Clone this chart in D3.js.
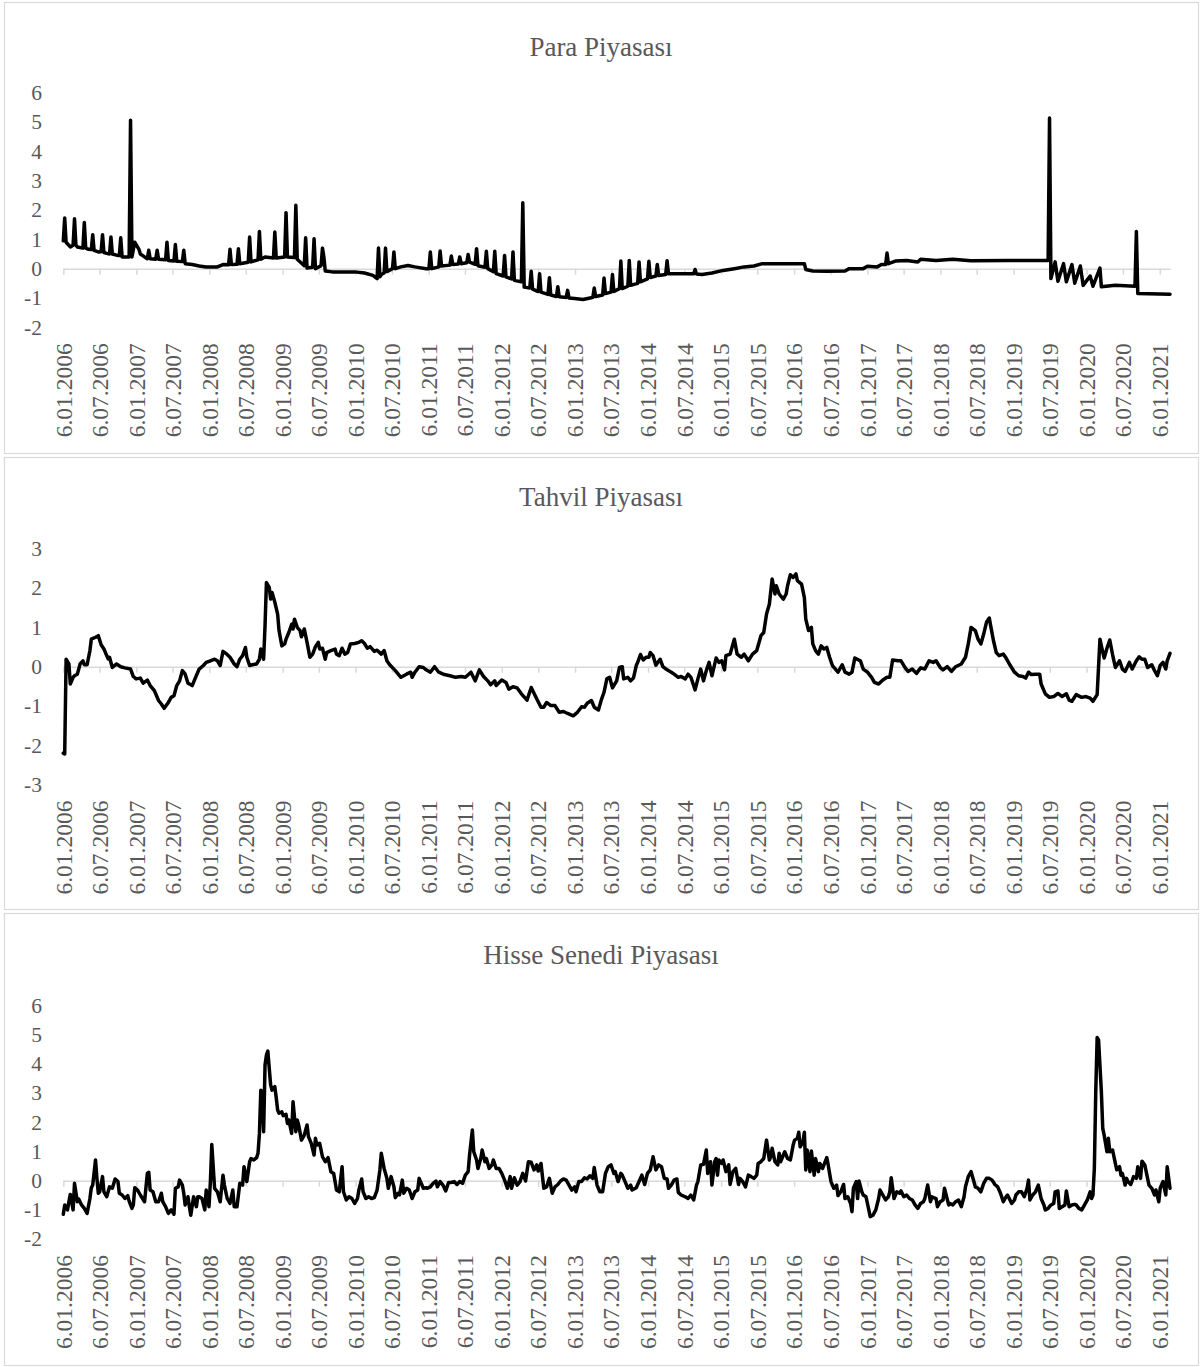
<!DOCTYPE html>
<html>
<head>
<meta charset="utf-8">
<script src="https://cdn.jsdelivr.net/npm/d3@7"></script>
<style>
  body { margin: 0; background: #fff; }
</style>
</head>
<body>
<div class="container"></div>
<script>
// weekly series, week 0 = 6.01.2006
const startDate = new Date(2006, 0, 6);
const lastWeek = 790;

const titles = ["Para Piyasası", "Tahvil Piyasası", "Hisse Senedi Piyasası"];

const tickLabels = [
  "6.01.2006", "6.07.2006", "6.01.2007", "6.07.2007", "6.01.2008", "6.07.2008",
  "6.01.2009", "6.07.2009", "6.01.2010", "6.07.2010", "6.01.2011", "6.07.2011",
  "6.01.2012", "6.07.2012", "6.01.2013", "6.07.2013", "6.01.2014", "6.07.2014",
  "6.01.2015", "6.07.2015", "6.01.2016", "6.07.2016", "6.01.2017", "6.07.2017",
  "6.01.2018", "6.07.2018", "6.01.2019", "6.07.2019", "6.01.2020", "6.07.2020",
  "6.01.2021"
];

const yTicksPara = [-2, -1, 0, 1, 2, 3, 4, 5, 6];
const yTicksTahvil = [-3, -2, -1, 0, 1, 2, 3];
const yTicksHisse = [-2, -1, 0, 1, 2, 3, 4, 5, 6];

const paraWeeks = [0,1,2,5,7,8,9,10,14,15,16,18,20,21,22,25,27,28,29,31,33,34,35,38,40,41,42,45,47,48,49,51,54,55,58,
  60,61,62,66,67,68,73,74,75,79,80,81,85,86,87,92,97,102,110,114,118,119,120,124,125,126,132,133,134,139,140,141,144,
  150,151,152,158,159,160,165,166,167,172,173,174,178,179,180,184,185,186,187,192,200,208,215,221,224,225,226,227,229,
  230,231,235,236,237,241,246,251,259,261,262,263,268,269,270,276,277,278,282,283,284,288,289,290,294,295,296,301,302,
  303,307,308,309,314,315,316,320,321,322,327,328,329,333,334,335,339,340,341,346,347,348,352,353,354,359,360,361,365,
  371,376,378,379,380,385,386,387,391,392,393,397,398,399,403,404,405,410,411,412,417,418,419,423,424,425,430,431,432,
  450,451,452,456,463,471,479,486,493,499,529,530,535,545,558,561,571,574,581,584,587,588,589,594,602,610,612,623,635,
  648,674,703,704,705,708,710,714,716,720,722,726,728,733,735,740,741,751,765,766,767,790];
const paraValues = [0.95,1.73,0.9,0.74,0.8,1.7,0.8,0.74,0.7,1.57,0.7,0.66,0.65,1.16,0.62,0.57,0.58,1.16,0.55,0.52,0.5,
  1.08,0.5,0.46,0.45,1.05,0.4,0.4,0.4,5.06,0.4,0.9,0.66,0.5,0.4,
  0.34,0.63,0.34,0.32,0.63,0.32,0.3,0.9,0.28,0.26,0.82,0.25,0.24,0.63,0.17,0.14,0.09,0.06,0.06,0.14,0.13,0.66,0.14,
  0.15,0.68,0.17,0.22,1.08,0.23,0.3,1.27,0.32,0.4,
  0.36,1.25,0.36,0.4,1.91,0.4,0.38,2.16,0.32,0.1,1.05,0.02,0.05,1.02,0,0.1,0.7,0.4,-0.08,-0.11,-0.11,-0.11,-0.15,-0.23,
  -0.34,0.7,-0.28,-0.2,-0.15,
  0.7,-0.1,0,0.57,0,0.06,0.11,0.06,0,0,0.57,0,0.06,0.6,0.09,0.12,0.43,0.14,0.16,0.4,0.17,0.2,0.48,0.22,0.15,0.68,0.1,
  0.05,0.59,
  0,-0.1,0.59,-0.17,-0.25,0.45,-0.28,-0.35,0.57,-0.4,-0.45,2.25,-0.63,-0.66,-0.09,-0.7,-0.78,-0.17,-0.8,-0.88,-0.31,
  -0.9,-0.95,-0.62,-0.96,-0.98,-0.74,-1,-1.02,
  -1.05,-1,-0.98,-0.66,-0.95,-0.9,-0.32,-0.85,-0.8,-0.2,-0.78,-0.68,0.26,-0.68,-0.6,0.28,-0.57,-0.5,0.23,-0.45,-0.35,
  0.25,-0.3,-0.25,0.14,-0.23,-0.2,0.27,-0.17,
  -0.17,-0.03,-0.18,-0.2,-0.15,-0.06,0,0.06,0.09,0.17,0.17,-0.03,-0.08,-0.09,-0.08,0,0,0.08,0.06,0.14,0.14,0.53,0.17,
  0.26,0.28,0.23,0.32,0.28,0.32,
  0.27,0.28,0.28,5.14,-0.34,0.23,-0.43,0.17,-0.45,0.14,-0.5,0.09,-0.57,-0.25,-0.6,0.02,-0.62,-0.57,-0.6,1.27,-0.85,-0.87];

const tahvilWeeks = [0,1,2,4,5,7,8,10,12,14,15,17,19,20,23,25,27,29,32,33,35,38,41,44,48,50,52,55,57,60,62,65,68,70,72,
  75,77,79,81,83,85,87,89,92,94,97,100,102,105,108,110,112,114,116,119,122,124,126,128,130,131,133,135,138,140,141,143,
  144,145,147,148,149,151,153,154,156,158,159,161,163,164,165,167,169,170,172,174,176,178,180,182,183,185,187,188,191,
  194,195,197,199,201,203,205,208,211,213,215,217,219,222,224,227,229,231,233,237,241,245,248,249,251,254,257,259,262,
  265,268,272,276,280,284,287,291,294,297,300,303,305,308,309,313,316,318,321,324,327,331,334,338,341,343,345,348,351,
  354,357,360,364,367,370,372,374,377,379,382,384,386,388,390,392,395,397,399,400,403,405,407,409,410,412,414,416,418,
  419,421,423,426,428,431,434,436,439,441,444,446,448,451,453,455,457,459,461,463,466,468,470,472,473,476,479,481,484,
  486,489,492,495,498,500,502,504,506,508,509,511,514,516,517,519,521,523,524,527,529,530,532,534,535,537,539,541,543,
  545,547,549,553,556,558,561,563,565,569,571,574,577,579,582,585,588,590,592,596,598,601,603,606,609,612,615,618,621,
  623,626,628,631,634,637,641,644,646,648,651,653,655,657,659,661,662,664,666,668,671,673,676,679,682,685,687,689,691,
  694,697,698,701,704,707,710,713,716,718,720,723,727,730,733,735,738,740,741,743,745,747,749,751,754,756,758,761,763,
  766,768,770,772,774,777,779,781,783,785,787,788,790];
const tahvilValues = [-2.2,-2.22,0.19,0.07,-0.44,-0.27,-0.23,-0.19,0.07,0.15,0.05,0.05,0.41,0.7,0.75,0.79,0.56,0.45,
  0.2,0.24,-0.02,0.07,0,-0.03,-0.06,-0.25,-0.31,-0.29,-0.42,-0.34,-0.48,-0.61,-0.86,-0.95,-1.06,
  -0.91,-0.78,-0.74,-0.48,-0.36,-0.1,-0.19,-0.42,-0.48,-0.31,-0.06,0.03,0.11,0.15,0.19,0.15,0.03,0.39,0.34,0.24,0.07,
  0,0.19,0.28,0.49,0.24,0.03,0.05,0.07,0.19,0.45,0.19,
  1.04,2.14,2.02,1.72,1.89,1.64,1.34,0.92,0.53,0.58,0.7,0.87,1.08,0.96,1.21,1,0.92,0.76,0.96,0.62,0.24,0.32,0.51,0.62,
  0.45,0.47,0.19,0.36,0.41,
  0.45,0.32,0.28,0.47,0.32,0.36,0.58,0.59,0.62,0.66,0.59,0.47,0.51,0.39,0.42,0.32,0.41,0.15,0.05,-0.1,-0.27,-0.19,
  -0.14,-0.27,-0.14,0,-0.02,-0.08,-0.14,
  0,-0.14,-0.2,-0.23,-0.27,-0.25,-0.27,-0.14,-0.36,-0.08,-0.25,-0.36,-0.46,-0.36,-0.48,-0.34,-0.4,-0.57,-0.51,-0.54,
  -0.69,-0.85,-0.53,-0.82,-1.03,-1.03,-0.91,-0.99,-0.99,
  -1.16,-1.14,-1.19,-1.25,-1.16,-1.02,-1.03,-0.93,-0.86,-1.03,-1.1,-0.85,-0.65,-0.31,-0.27,-0.54,-0.36,-0.02,0,-0.31,
  -0.27,-0.36,-0.29,0.03,0.11,0.31,0.17,0.24,0.24,
  0.36,0.28,0.04,0.19,0,-0.08,-0.14,-0.19,-0.27,-0.25,-0.31,-0.19,-0.27,-0.59,-0.31,-0.06,-0.36,-0.1,0.11,-0.23,0.22,
  0.11,0.15,-0.08,0.28,0.32,0.7,0.32,0.24,
  0.32,0.15,0.32,0.41,0.79,0.87,1.34,1.59,2.23,1.85,2.06,1.85,1.72,1.85,2.06,2.34,2.27,2.36,2.19,2.1,1.76,1.21,0.92,1,
  0.58,0.41,0.32,0.53,0.45,
  0.49,0.24,0.03,-0.14,0.05,-0.14,-0.19,-0.14,0.22,0.15,-0.06,-0.14,-0.27,-0.4,-0.44,-0.34,-0.27,-0.27,0.17,0.15,0.15,
  -0.03,-0.12,-0.06,-0.17,-0.03,-0.06,0.15,0.11,
  0.15,-0.02,-0.08,0,-0.12,0,0.07,0.24,0.58,1,0.92,0.7,0.58,0.83,1.13,1.24,1.04,0.66,0.36,0.28,0.32,0.22,0.03,-0.14,
  -0.23,-0.25,-0.29,-0.14,-0.2,
  -0.19,-0.19,-0.44,-0.69,-0.78,-0.76,-0.68,-0.76,-0.69,-0.85,-0.88,-0.71,-0.78,-0.76,-0.8,-0.88,-0.71,0.7,0.53,0.22,
  0.47,0.68,0.31,-0.02,0.15,-0.06,-0.12,0.11,-0.06,
  0.15,0.25,0.19,0.19,-0.02,0.05,-0.1,-0.23,0.03,0.11,-0.06,0.15,0.34];

const hisseWeeks = [0,1,3,4,5,7,8,10,11,13,15,17,19,20,21,23,24,25,26,28,29,31,33,35,37,39,40,42,44,46,47,49,50,51,53,
  55,58,60,61,62,64,66,68,70,71,73,75,77,79,80,82,83,85,86,87,89,90,91,93,95,96,97,99,101,102,104,105,106,108,110,112,
  114,115,117,119,121,122,124,126,128,129,131,133,134,136,138,139,140,141,142,143,144,145,146,148,149,151,152,153,154,
  156,157,159,160,161,163,164,166,167,168,170,172,174,175,177,179,180,181,183,185,187,189,191,193,194,195,197,199,200,
  202,204,206,208,210,211,213,214,216,218,220,222,224,226,227,229,231,232,234,236,237,239,240,242,243,245,247,249,251,
  253,254,257,259,260,262,264,266,267,269,271,273,275,277,279,281,283,285,287,289,290,292,293,295,296,298,299,301,302,
  304,306,307,309,311,313,315,317,319,320,322,324,326,328,330,332,334,336,338,339,341,343,345,347,349,351,353,355,357,
  359,361,363,365,366,368,370,372,374,376,378,379,381,383,385,387,389,391,393,394,396,398,399,401,403,405,406,409,411,
  413,415,417,419,421,423,425,427,429,431,432,434,436,438,439,441,444,446,448,450,452,453,455,457,459,460,462,463,465,
  466,467,468,470,471,473,475,476,478,480,482,483,485,487,489,491,493,495,496,498,500,502,504,505,506,508,510,511,512,
  514,515,517,519,521,522,524,525,526,528,529,530,531,533,534,536,537,539,540,542,545,546,548,550,552,553,555,557,558,
  560,562,563,564,566,567,568,570,571,573,575,576,578,580,582,583,585,587,589,590,591,593,595,597,598,600,602,604,606,
  608,610,612,614,615,617,619,620,623,624,626,628,629,632,633,635,637,639,641,643,644,646,648,650,651,653,655,657,659,
  661,663,665,667,669,671,673,674,677,679,680,682,684,686,688,689,690,692,694,696,698,700,701,703,705,707,708,710,711,
  713,715,716,718,720,722,723,725,727,729,731,733,734,735,736,737,738,739,741,742,743,745,746,747,749,751,752,754,755,
  756,758,759,760,762,764,766,767,769,770,772,774,775,777,779,780,782,783,785,787,788,790];
const hisseValues = [-1.15,-0.83,-1,-0.72,-0.47,-1,-0.09,-0.72,-0.63,-0.83,-0.95,-1.12,-0.61,-0.24,-0.15,0.71,0.08,
  -0.43,-0.38,0.14,-0.38,-0.55,-0.21,-0.26,0.06,-0.03,-0.43,-0.49,-0.61,-0.51,-0.7,-0.95,-0.83,-0.24,-0.32,
  -0.49,-0.72,0.25,0.29,-0.32,-0.38,-0.72,-0.72,-0.43,-0.72,-0.89,-1.12,-1,-1.15,-0.26,-0.21,0.02,-0.15,-0.43,-0.83,
  -0.55,-0.89,-1.18,-0.55,-0.89,-0.55,-0.55,-0.61,-1,-0.32,-0.89,-0.03,1.24,-0.26,-0.38,-0.72,
  0.19,-0.15,-0.61,-0.78,-0.32,-0.89,-0.89,-0.09,-0.15,0.48,-0.03,0.65,0.76,0.71,0.79,0.94,1.62,3.1,3.05,1.68,3.96,
  4.3,4.44,3.28,3.1,3.22,2.84,2.42,2.31,
  2.36,2.23,2.27,1.96,2.08,1.62,2.7,1.68,2.08,1.91,1.39,1.56,1.91,1.51,1.28,0.88,1.45,1.22,1.28,0.82,0.65,0.79,0.31,
  0.25,-0.03,-0.32,-0.38,0.48,-0.38,
  -0.66,-0.55,-0.61,-0.78,-0.61,-0.32,0.06,-0.38,-0.61,-0.55,-0.61,-0.58,-0.32,0.37,0.94,0.42,0.08,-0.26,0.14,-0.21,
  -0.58,-0.43,-0.49,0.02,-0.43,-0.26,-0.32,-0.61,-0.38,
  -0.32,0.08,-0.26,-0.24,-0.26,-0.21,-0.09,-0.01,-0.21,-0.03,-0.15,-0.35,-0.06,-0.06,-0.03,-0.13,-0.03,-0.09,0.19,
  0.31,0.88,1.74,0.99,0.71,0.42,0.76,1.05,0.65,0.76,
  0.42,0.54,0.71,0.42,0.42,0.25,0.02,-0.26,0.14,-0.26,0.1,-0.15,-0.03,0.25,-0.01,0.65,0.63,0.37,0.54,0.33,0.59,-0.26,
  -0.21,0.08,-0.43,-0.21,-0.13,-0.01,0.06,
  0.02,-0.15,-0.32,-0.21,-0.38,-0.03,-0.03,0.1,0.06,0.17,0.08,0.45,-0.15,-0.38,-0.38,0.25,0.48,0.54,0.25,0.31,-0.03,
  0.25,0.19,-0.03,-0.26,-0.15,-0.32,-0.24,-0.03,
  0.19,-0.13,0.25,0.37,0.82,0.37,0.54,0.48,0.08,0.06,-0.26,-0.15,0.02,0.06,-0.4,-0.49,-0.55,-0.61,-0.49,-0.66,-0.15,
  -0.03,0.54,0.56,1.05,0.25,0.65,-0.15,0.65,
  0.76,0.19,0.71,0.59,0.71,0.31,0.54,-0.13,0.31,0.42,-0.13,0.08,-0.03,-0.21,0.19,0.14,0.08,0.19,0.59,0.65,0.76,1.39,
  0.71,0.82,1.11,0.65,0.54,0.94,0.65,
  0.88,0.99,0.76,0.71,1.22,1.39,1.45,1.66,1.16,1.34,1.66,0.37,1.05,0.31,1.02,0.19,0.76,0.31,0.59,0.42,0.79,0.54,-0.03,
  -0.26,-0.15,-0.51,-0.38,-0.13,-0.61,
  -0.55,-0.78,-1.06,-0.26,-0.03,-0.61,-0.01,-0.38,-0.49,-0.55,-1,-1.23,-1.18,-1,-0.61,-0.32,-0.49,-0.66,-0.55,-0.38,
  0.1,-0.61,-0.38,-0.43,-0.35,-0.55,-0.49,-0.61,-0.66,
  -0.83,-0.95,-0.78,-0.72,-0.61,-0.15,-0.72,-0.55,-0.61,-0.89,-0.72,-0.66,-0.26,-0.83,-0.78,-0.83,-0.72,-0.66,-0.89,
  -0.55,-0.21,0.14,0.31,-0.03,-0.21,-0.26,-0.38,-0.09,0.08,
  0.08,0.02,-0.13,-0.21,-0.43,-0.72,-0.55,-0.49,-0.78,-0.66,-0.49,-0.38,-0.38,-0.55,-0.26,0.02,-0.66,-0.49,-0.38,
  -0.15,-0.61,-0.83,-1,-0.95,-0.83,-0.78,-0.38,-0.35,-0.95,
  -0.89,-0.83,-0.35,-0.89,-0.83,-0.81,-0.83,-0.95,-1,-0.83,-0.66,-0.38,-0.61,-0.49,0.42,3.05,4.9,4.82,3.05,1.79,1.56,
  0.99,1.45,0.99,1.05,0.59,0.37,0.48,0.19,
  0.25,-0.15,0.08,-0.03,-0.13,0.14,0.08,0.48,0.08,0.67,0.54,0.08,-0.15,-0.26,-0.49,-0.32,-0.72,-0.26,-0.03,-0.49,0.48,
  -0.26];

const w = 1203;
const h = 1367;
const plotLeft = 63.3;
const plotRight = 1170;
const textColor = "#595959";
const gridColor = "#d9d9d9";
const serif = "'Liberation Serif', 'Times New Roman', serif";

const panels = [
  { title: titles[0], weeks: paraWeeks, values: paraValues, yTicks: yTicksPara,
    top: 2, bottom: 453, plotTop: 92.7, plotBottom: 327.3, titleY: 56 },
  { title: titles[1], weeks: tahvilWeeks, values: tahvilValues, yTicks: yTicksTahvil,
    top: 457, bottom: 909, plotTop: 548.8, plotBottom: 784.6, titleY: 506 },
  { title: titles[2], weeks: hisseWeeks, values: hisseValues, yTicks: yTicksHisse,
    top: 913, bottom: 1365, plotTop: 1005.5, plotBottom: 1239.1, titleY: 964 }
];

const weekDate = (wk) => d3.timeDay.offset(startDate, wk * 7);
const parseTick = d3.timeParse("%d.%m.%Y");
const tickDates = tickLabels.map(parseTick);

const svg = d3.select(".container")
              .append("svg")
              .attr("width", w)
              .attr("height", h);

const xScale = d3.scaleTime()
                 .domain([startDate, weekDate(lastWeek)])
                 .range([plotLeft, plotRight]);

const drawPanel = (p) => {
    const g = svg.append("g");

    g.append("rect")
     .attr("x", 4.5)
     .attr("y", p.top + 0.5)
     .attr("width", 1194)
     .attr("height", p.bottom - p.top)
     .attr("fill", "none")
     .attr("stroke", gridColor)
     .attr("stroke-width", 1.2);

    g.append("text")
     .attr("x", 601)
     .attr("y", p.titleY)
     .attr("text-anchor", "middle")
     .attr("font-family", serif)
     .attr("font-size", 27)
     .attr("fill", textColor)
     .text(p.title);

    const yScale = d3.scaleLinear()
                     .domain([p.yTicks[0], p.yTicks[p.yTicks.length - 1]])
                     .range([p.plotBottom, p.plotTop]);

    // horizontal axis crosses at 0
    const xAxis = d3.axisBottom(xScale)
                    .tickValues(tickDates)
                    .tickSize(6)
                    .tickSizeOuter(0)
                    .tickFormat("");
    g.append("g")
     .attr("transform", "translate(0," + yScale(0) + ")")
     .call(xAxis)
     .call(a => a.selectAll("path, line").attr("stroke", gridColor).attr("stroke-width", 1.5));

    // date labels sit below the plot area
    const labelY = p.plotBottom + 16;
    g.selectAll(".xlabel")
     .data(tickLabels)
     .enter()
     .append("text")
     .attr("class", "xlabel")
     .attr("transform", (d, i) => "translate(" + xScale(tickDates[i]) + "," + labelY + ") rotate(-90)")
     .attr("text-anchor", "end")
     .attr("dy", "0.35em")
     .attr("font-family", serif)
     .attr("font-size", 23.5)
     .attr("fill", textColor)
     .text(d => d);

    const yAxis = d3.axisLeft(yScale)
                    .tickValues(p.yTicks)
                    .tickSize(0)
                    .tickPadding(0)
                    .tickFormat(d => String(d));
    g.append("g")
     .attr("transform", "translate(42,0)")
     .call(yAxis)
     .call(a => a.select(".domain").remove())
     .selectAll("text")
     .attr("font-family", serif)
     .attr("font-size", 21.5)
     .attr("fill", textColor);

    const series = p.weeks.map((wk, i) => ({ date: weekDate(wk), value: p.values[i] }));

    const line = d3.line()
                   .x(d => xScale(d.date))
                   .y(d => yScale(d.value));

    g.append("path")
     .datum(series)
     .attr("d", line)
     .attr("fill", "none")
     .attr("stroke", "#000")
     .attr("stroke-width", 3.5)
     .attr("stroke-linejoin", "round")
     .attr("stroke-linecap", "round");
};

panels.forEach(drawPanel);
</script>
</body>
</html>
